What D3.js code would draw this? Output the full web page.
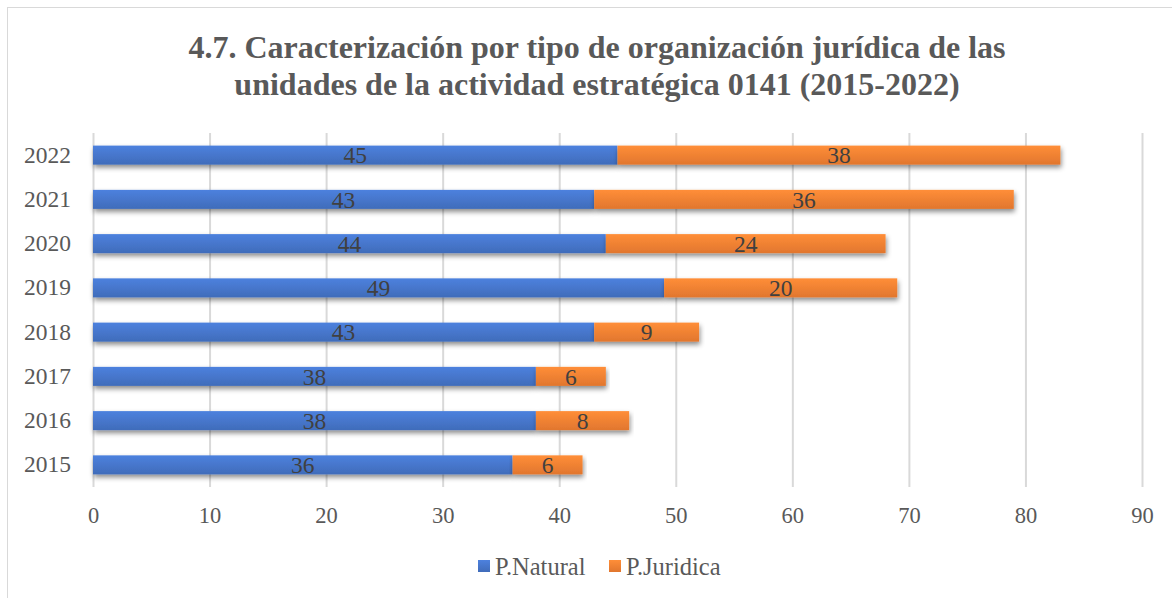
<!DOCTYPE html>
<html>
<head>
<meta charset="utf-8">
<script src="https://cdn.jsdelivr.net/npm/d3@7"></script>
<style>
  body { margin: 0; background: #fff; }
  svg { display: block; font-family: "Liberation Serif", "Times New Roman", serif; }
</style>
</head>
<body>
<svg id="chart" width="1172" height="598"></svg>
<script>
// data
var years = ["2015", "2016", "2017", "2018", "2019", "2020", "2021", "2022"];
var natural = [36, 38, 38, 43, 49, 44, 43, 45];
var juridica = [6, 8, 6, 9, 20, 24, 36, 38];
var xTicks = [0, 10, 20, 30, 40, 50, 60, 70, 80, 90];
var seriesNames = ["P.Natural", "P.Juridica"];
var seriesColors = ["#4472C4", "#ED7D31"];

var svg = d3.select("#chart");
var defs = svg.append("defs");

// gradient + shadow like the office bevel
seriesColors.forEach(function(c, i){
    var g = defs.append("linearGradient").attr("id", "grad" + i)
        .attr("x1", 0).attr("y1", 0).attr("x2", 0).attr("y2", 1);
    g.append("stop").attr("offset", "0%").attr("stop-color", d3.color(c).brighter(0.35));
    g.append("stop").attr("offset", "100%").attr("stop-color", d3.color(c).darker(0.15));
});
var f = defs.append("filter").attr("id", "shadow")
    .attr("x", "-5%").attr("y", "-40%").attr("width", "110%").attr("height", "200%");
f.append("feDropShadow").attr("dx", 1).attr("dy", 3).attr("stdDeviation", 2.5)
    .attr("flood-color", "#000").attr("flood-opacity", 0.45);

// chart border
svg.append("rect").attr("x", 7.5).attr("y", 7.5).attr("width", 1170).attr("height", 600)
    .attr("fill", "none").attr("stroke", "#d9d9d9");

// title
var title = svg.append("text").attr("text-anchor", "middle")
    .attr("font-weight", "bold").attr("font-size", 32).attr("fill", "#595959");
title.append("tspan").attr("x", 597).attr("y", 58)
    .text("4.7. Caracterización por tipo de organización jurídica de las");
title.append("tspan").attr("x", 597).attr("y", 95)
    .text("unidades de la actividad estratégica 0141 (2015-2022)");

var plotLeft = 93, plotRight = 1142, plotTop = 133, plotBottom = 487;

var x = d3.scaleLinear().domain([0, 90]).range([plotLeft, plotRight]);
var y = d3.scaleBand().domain(years.slice().reverse()).range([plotTop, plotBottom])
    .paddingInner(0.57).paddingOuter(0.285);

// grid
svg.append("g").selectAll("line").data(xTicks).join("line")
    .attr("x1", function(d){ return x(d) + 0.5; }).attr("x2", function(d){ return x(d) + 0.5; })
    .attr("y1", plotTop).attr("y2", plotBottom)
    .attr("stroke", "#d9d9d9").attr("stroke-width", 2);

// x axis labels
var xAxis = svg.append("g").attr("transform", "translate(0," + plotBottom + ")")
    .call(d3.axisBottom(x).tickValues(xTicks).tickSize(0).tickPadding(20));
xAxis.select(".domain").remove();
xAxis.selectAll("text").attr("font-size", 22.5).attr("fill", "#595959")
    .attr("font-family", "Liberation Serif, serif");

// y axis labels
var yAxis = svg.append("g").attr("transform", "translate(" + plotLeft + ",0)")
    .call(d3.axisLeft(y).tickSize(0).tickPadding(22));
yAxis.select(".domain").remove();
yAxis.selectAll("text").attr("font-size", 23.5).attr("fill", "#595959")
    .attr("font-family", "Liberation Serif, serif");

// stacked data
var rows = years.map(function(yr, i){ return {year: yr, a: natural[i], b: juridica[i]}; });
var stack = d3.stack().keys(["a", "b"])(rows);

var layers = svg.append("g").selectAll("g").data(stack).join("g")
    .attr("fill", function(d, i){ return "url(#grad" + i + ")"; });

layers.selectAll("rect").data(function(d){ return d; }).join("rect")
    .attr("x", function(d){ return x(d[0]); })
    .attr("width", function(d){ return x(d[1]) - x(d[0]); })
    .attr("y", function(d){ return y(d.data.year); })
    .attr("height", y.bandwidth())
    .attr("filter", "url(#shadow)");

// value labels
var labels = svg.append("g");
stack.forEach(function(layer){
    labels.append("g").selectAll("text").data(layer).join("text")
        .attr("x", function(d){ return (x(d[0]) + x(d[1])) / 2; })
        .attr("y", function(d){ return y(d.data.year) + y.bandwidth() / 2; })
        .attr("dy", "0.35em")
        .attr("text-anchor", "middle")
        .attr("font-size", 23.5).attr("fill", "#404040")
        .text(function(d){ return d[1] - d[0]; });
});

// legend
var legend = svg.append("g").attr("transform", "translate(478,566)");
var items = [{name: seriesNames[0], x: 0}, {name: seriesNames[1], x: 131}];
items.forEach(function(it, i){
    legend.append("rect").attr("x", it.x).attr("y", -6).attr("width", 12).attr("height", 12)
        .attr("fill", "url(#grad" + i + ")");
    legend.append("text").attr("x", it.x + 17).attr("y", 0).attr("dy", "0.35em")
        .attr("font-size", 24.5).attr("fill", "#595959").text(it.name);
});
</script>
</body>
</html>
